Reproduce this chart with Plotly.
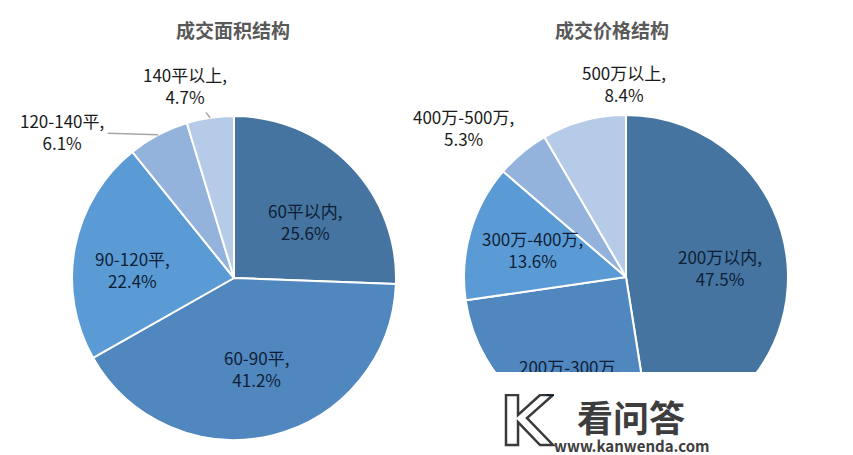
import math
import plotly.graph_objects as go

# ---- data ----
area_labels = ["60平以内", "60-90平", "90-120平", "120-140平", "140平以上"]
area_values = [25.6, 41.2, 22.4, 6.1, 4.7]
price_labels = ["200万以内", "200万-300万", "300万-400万", "400万-500万", "500万以上"]
price_values = [47.5, 25.2, 13.6, 5.3, 8.4]
titles = ["成交面积结构", "成交价格结构"]

colors = ["#44749f", "#5087be", "#5b9bd5", "#93b3dc", "#b6cbe8"]
W, H = 853, 455
FONT = "Noto Sans CJK SC, Microsoft YaHei, sans-serif"
LFS = 17

# pie geometry in pixels (center x, center y, radius)
geo = [(234, 278, 162), (626, 277, 162)]

def domain(cx, cy, r):
    return dict(x=[(cx - r) / W, (cx + r) / W], y=[(H - cy - r) / H, (H - cy + r) / H])

fig = go.Figure()
series = [(area_labels, area_values), (price_labels, price_values)]
for i, (labs, vals) in enumerate(series):
    fig.add_trace(go.Pie(
        labels=labs, values=vals, sort=False, direction="clockwise", rotation=0,
        domain=domain(*geo[i]),
        marker=dict(colors=colors, line=dict(color="white", width=2)),
        textinfo="none", hoverinfo="label+percent", showlegend=False,
    ))

def slice_point(vals, idx, cx, cy, r, rf=1.0, dang=0.0):
    tot = sum(vals)
    mid = (sum(vals[:idx]) + vals[idx] / 2) / tot * 360 + dang
    a = math.radians(mid)
    return cx + rf * r * math.sin(a), cy - rf * r * math.cos(a)

def label(s, idx):
    labs, vals = series[s]
    return f"{labs[idx]},<br>{vals[idx]:.1f}%"

# inside labels: (series, index, radial fraction, angular tweak)
inside = [(0, 0, 0.56, 5.7), (0, 1, 0.575, 0), (0, 2, 0.63, -6.3),
          (1, 0, 0.583, -1.5), (1, 1, 0.71, -7), (1, 2, 0.60, 0)]
for s, idx, rf, dang in inside:
    x, y = slice_point(series[s][1], idx, *geo[s], rf=rf, dang=dang)
    fig.add_annotation(x=x / W, y=1 - y / H, xref="paper", yref="paper", text=label(s, idx),
                       showarrow=False, xanchor="center", yanchor="middle", align="center",
                       font=dict(family=FONT, size=LFS, color="#0f1e36"))

# outside labels for small slices, anchored on the rim at slice mid angle
outside = [
    # (series, index, ax, ay, show leader line)
    (0, 3, -96, -3, True),
    (0, 4, -25, -32, True),
    (1, 3, -59, -25, False),
    (1, 4, 40, -37, False),
]
for s, idx, ax, ay, line in outside:
    x, y = slice_point(series[s][1], idx, *geo[s])
    fig.add_annotation(
        x=x / W, y=1 - y / H, xref="paper", yref="paper", ax=ax, ay=ay,
        text=label(s, idx), showarrow=True, arrowhead=0, standoff=0, startstandoff=2,
        arrowwidth=1.5, arrowcolor="#a6a6a6" if line else "rgba(0,0,0,0)",
        font=dict(family=FONT, size=LFS, color="#1a1a1a"), align="center",
    )

# titles
for t, x in zip(titles, [233, 612]):
    fig.add_annotation(x=x / W, y=1 - 30 / H, xref="paper", yref="paper", text=f"<b>{t}</b>",
                       showarrow=False, xanchor="center", yanchor="middle",
                       font=dict(family=FONT, size=19, color="#595959"))

# white box covering bottom of right pie (and its label tail)
fig.add_shape(type="rect", xref="paper", yref="paper", x0=455 / W, x1=800 / W, y0=0, y1=1 - 372 / H,
              fillcolor="white", line=dict(width=0), layer="above")
for (bx0, by0, bw, bh) in [(455, 372, 345, 22), (554, 372, 246, 30)]:
    fig.add_annotation(x=bx0 / W, y=1 - by0 / H, xref="paper", yref="paper", text=" ",
                       showarrow=False, xanchor="left", yanchor="top", width=bw, height=bh,
                       bgcolor="white", borderpad=0, borderwidth=0)

# watermark logo (outlined K) and text
def P(x, y):
    return f"{x / W:.4f},{1 - y / H:.4f}"
kpath = ("M " + P(506, 395) + " L " + P(518, 395) + " L " + P(518, 415) + " L " + P(540, 395)
         + " L " + P(553, 395) + " L " + P(527, 418) + " L " + P(553, 445) + " L " + P(540, 445)
         + " L " + P(518, 422) + " L " + P(518, 445) + " L " + P(506, 445) + " Z")
fig.add_shape(type="path", xref="paper", yref="paper", path=kpath,
              fillcolor="white", line=dict(color="#3a3a3a", width=2.5), layer="above")
fig.add_annotation(x=631 / W, y=1 - 416 / H, xref="paper", yref="paper", text="<b>看问答</b>",
                   showarrow=False, xanchor="center", yanchor="middle",
                   font=dict(family=FONT, size=36, color="#3d3d3d"))
fig.add_annotation(x=632 / W, y=1 - 445 / H, xref="paper", yref="paper", text="<b>www.kanwenda.com</b>",
                   showarrow=False, xanchor="center", yanchor="middle",
                   font=dict(family=FONT, size=15, color="#3d3d3d"))

fig.update_layout(width=W, height=H, margin=dict(l=0, r=0, t=0, b=0),
                  paper_bgcolor="white", plot_bgcolor="white")
fig.write_html("out.html")
